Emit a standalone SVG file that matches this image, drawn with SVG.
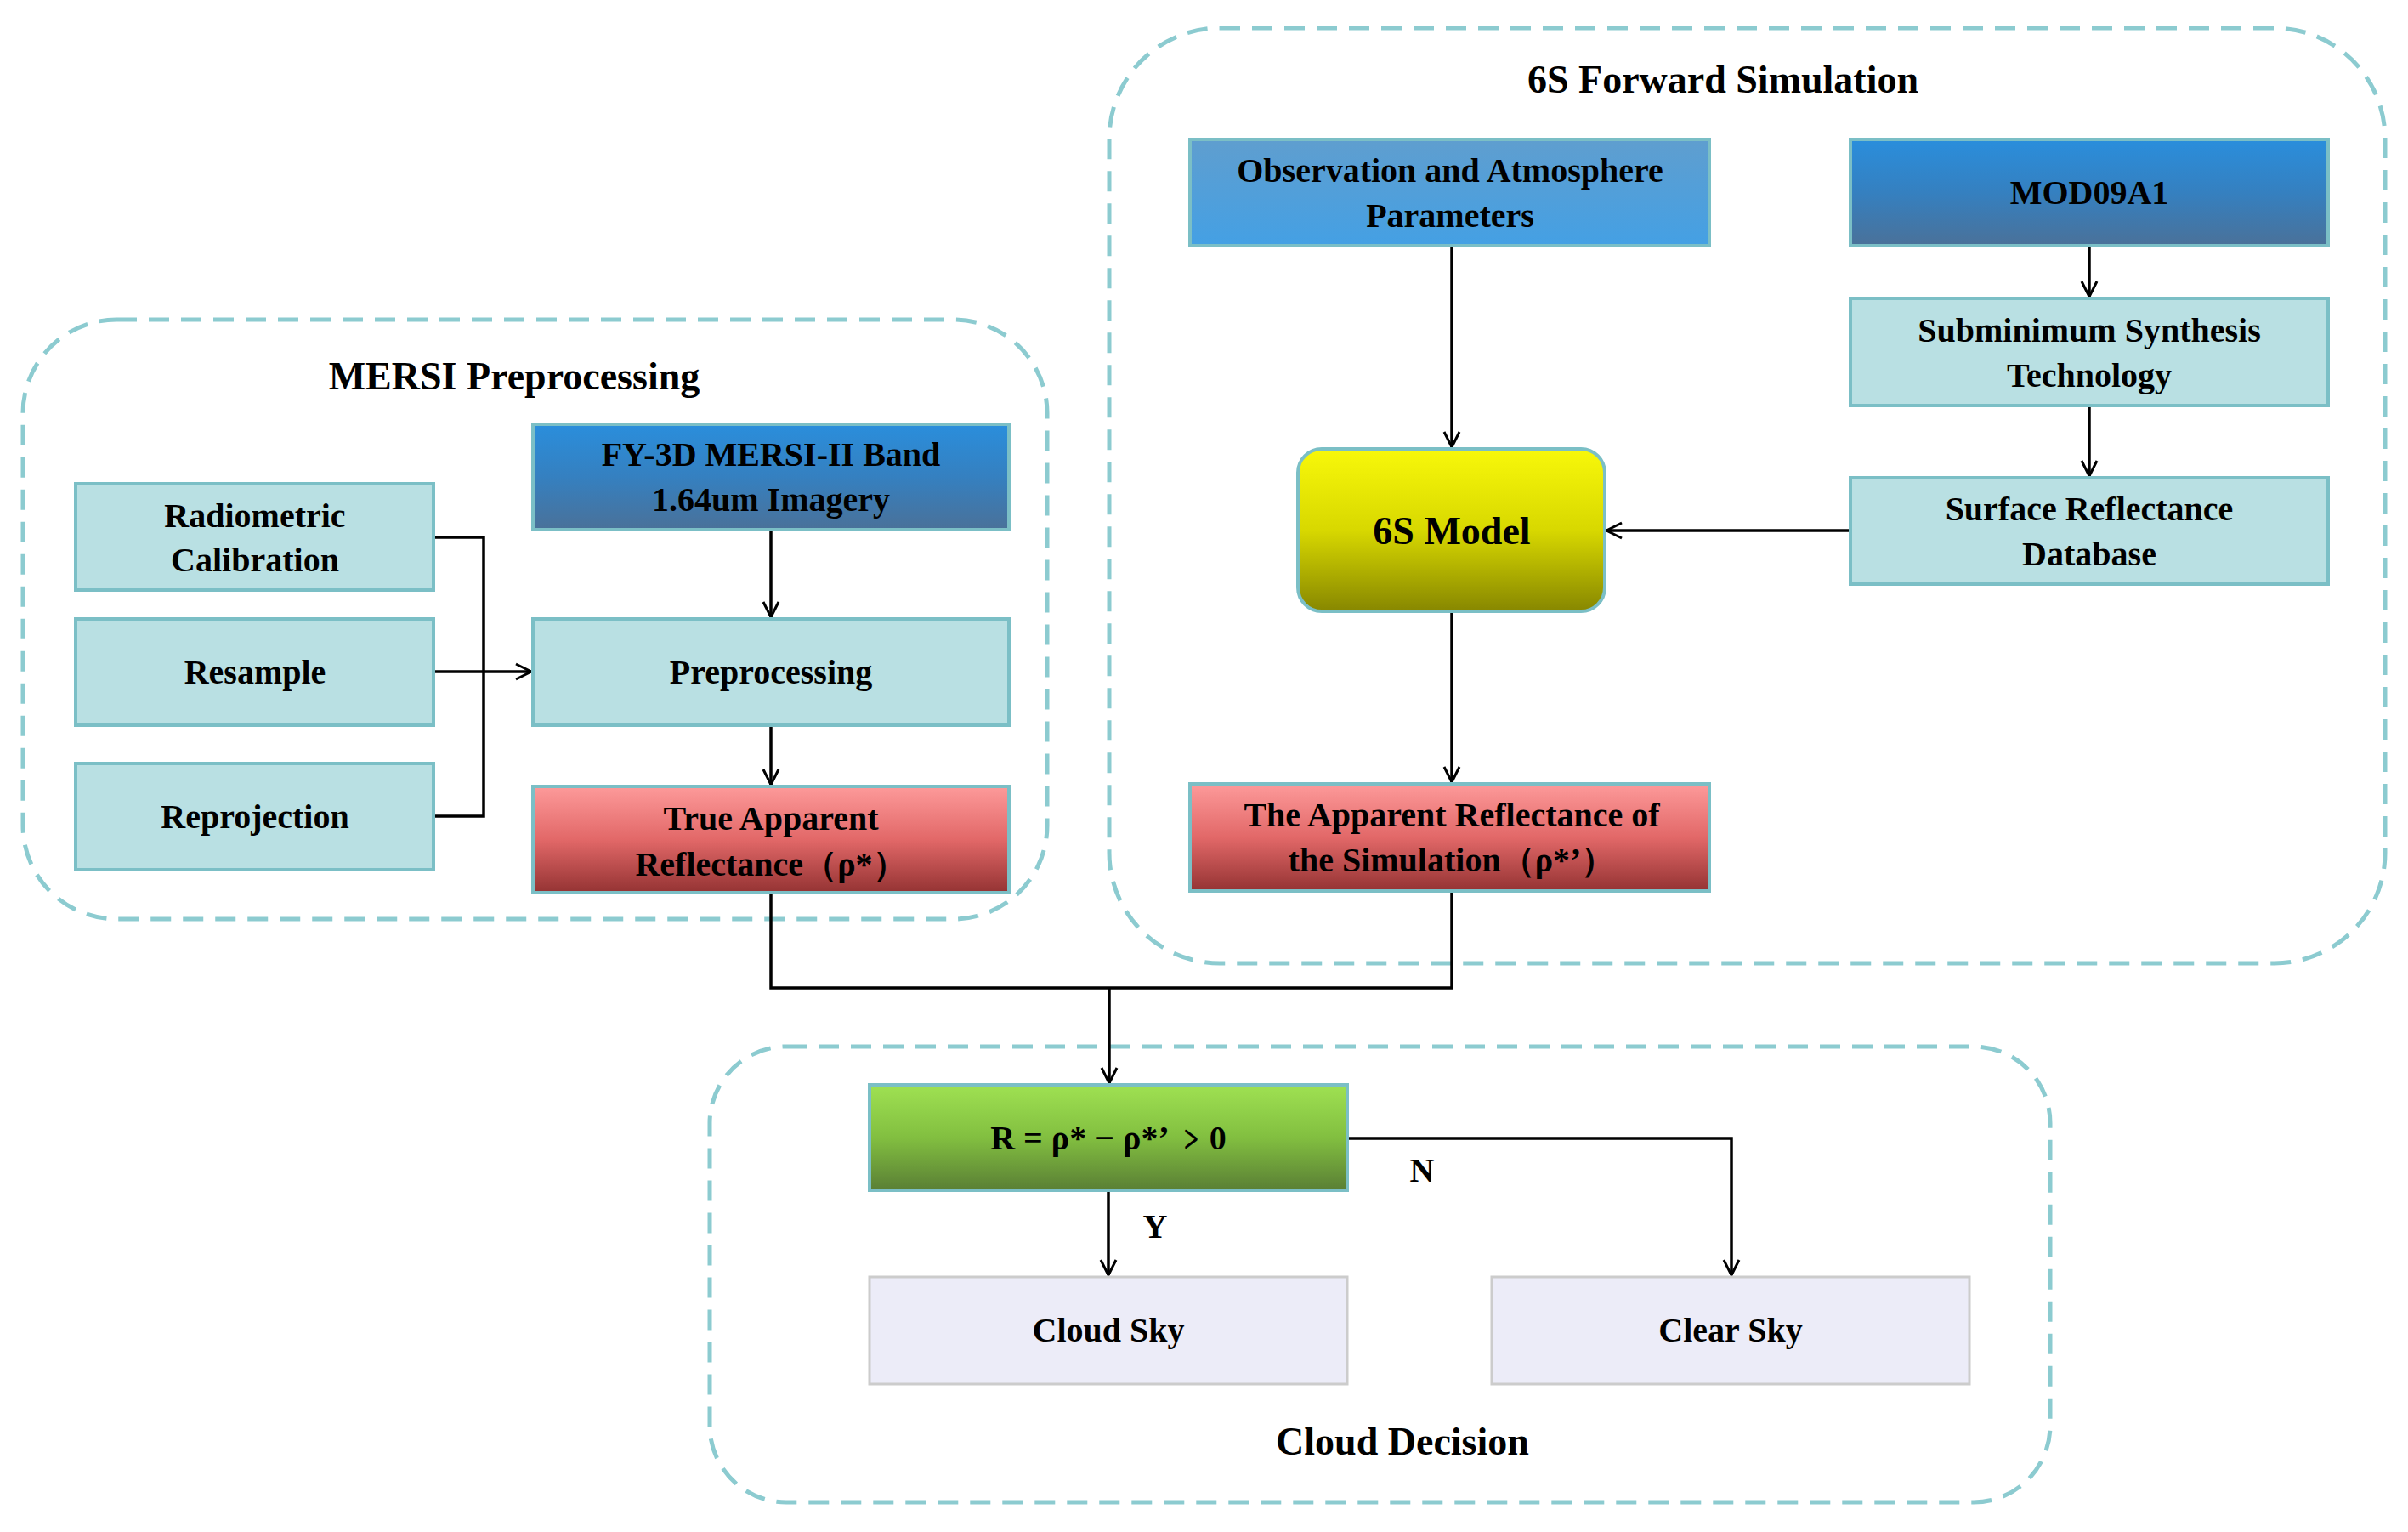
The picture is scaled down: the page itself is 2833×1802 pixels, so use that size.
<svg xmlns="http://www.w3.org/2000/svg" width="2833" height="1802" viewBox="0 0 2833 1802">
<defs>
<linearGradient id="gBlue" x1="0" y1="0" x2="0" y2="1"><stop offset="0" stop-color="#2a8edc"/><stop offset="0.5" stop-color="#3580c0"/><stop offset="1" stop-color="#4a7199"/></linearGradient>
<linearGradient id="gLBlue" x1="0" y1="0" x2="0" y2="1"><stop offset="0" stop-color="#5f9ecf"/><stop offset="1" stop-color="#44a0e4"/></linearGradient>
<linearGradient id="gRed" x1="0" y1="0" x2="0" y2="1"><stop offset="0" stop-color="#fd9a9a"/><stop offset="0.5" stop-color="#e26868"/><stop offset="1" stop-color="#943333"/></linearGradient>
<linearGradient id="gYel" x1="0" y1="0" x2="0" y2="1"><stop offset="0" stop-color="#f8f80a"/><stop offset="0.5" stop-color="#d8d800"/><stop offset="1" stop-color="#878700"/></linearGradient>
<linearGradient id="gGrn" x1="0" y1="0" x2="0" y2="1"><stop offset="0" stop-color="#9fe152"/><stop offset="0.5" stop-color="#82bf40"/><stop offset="1" stop-color="#5a7f35"/></linearGradient>
<marker id="arr" markerWidth="24" markerHeight="24" refX="20" refY="12" orient="auto" markerUnits="userSpaceOnUse"><path d="M2,3 L20,12 L2,21" fill="none" stroke="#000" stroke-width="3"/></marker>
</defs>
<style>
text{font-family:"Liberation Serif","Times New Roman",serif;font-weight:bold;font-size:40px;fill:#000;text-anchor:middle}
.t{font-size:46px}
.grp{fill:none;stroke:#8ccbd0;stroke-width:5;stroke-dasharray:24 14}
.c{fill:#b9e0e3;stroke:#7bbfc6;stroke-width:4}
.b{stroke:#7bbfc6;stroke-width:4}
.w{fill:#ececf8;stroke:#cccccc;stroke-width:3}
.ln{fill:none;stroke:#000;stroke-width:3.5}
</style>
<rect class="grp" x="27" y="376" width="1205" height="705" rx="110"/>
<rect class="grp" x="1305" y="33" width="1501" height="1100" rx="130"/>
<rect class="grp" x="835" y="1231" width="1577" height="536" rx="90"/>
<text class="t" x="605" y="458">MERSI Preprocessing</text>
<text class="t" x="2027" y="109">6S Forward Simulation</text>
<text class="t" x="1650" y="1711">Cloud Decision</text>
<g id="connectors">
<path class="ln" d="M510,632 H569 V960 H510 M510,790 H625" marker-end="url(#arr)"/>
<path class="ln" d="M907,623 V726" marker-end="url(#arr)"/>
<path class="ln" d="M907,853 V923" marker-end="url(#arr)"/>
<path class="ln" d="M1708,289 V526" marker-end="url(#arr)"/>
<path class="ln" d="M2458,289 V349" marker-end="url(#arr)"/>
<path class="ln" d="M2458,477 V560" marker-end="url(#arr)"/>
<path class="ln" d="M2177,624 H1890" marker-end="url(#arr)"/>
<path class="ln" d="M1708,719 V920" marker-end="url(#arr)"/>
<path class="ln" d="M907,1050 V1162 H1305 M1708,1048 V1162 H1305 V1274" marker-end="url(#arr)"/>
<path class="ln" d="M1304,1400 V1500" marker-end="url(#arr)"/>
<path class="ln" d="M1585,1339 H2037 V1500" marker-end="url(#arr)"/>
<text x="1673" y="1390">N</text>
<text x="1359" y="1456">Y</text>
</g>
<g id="radiometric"><rect class="c" x="89" y="569" width="421" height="125"/><text x="300" y="620">Radiometric</text><text x="300" y="672">Calibration</text></g>
<g id="resample"><rect class="c" x="89" y="728" width="421" height="125"/><text x="300" y="804">Resample</text></g>
<g id="reprojection"><rect class="c" x="89" y="898" width="421" height="125"/><text x="300" y="974">Reprojection</text></g>
<g id="fy3d"><rect class="b" fill="url(#gBlue)" x="627" y="499" width="560" height="124"/><text x="907" y="548">FY-3D MERSI-II Band</text><text x="907" y="601">1.64um Imagery</text></g>
<g id="preprocessing"><rect class="c" x="627" y="728" width="560" height="125"/><text x="907" y="804">Preprocessing</text></g>
<g id="true-apparent"><rect class="b" fill="url(#gRed)" x="627" y="925" width="560" height="125"/><text x="907" y="976">True Apparent</text><text x="907" y="1030">Reflectance（ρ*）</text></g>
<g id="obs"><rect class="b" fill="url(#gLBlue)" x="1400" y="164" width="611" height="125"/><text x="1706" y="214">Observation and Atmosphere</text><text x="1706" y="267">Parameters</text></g>
<g id="mod09a1"><rect class="b" fill="url(#gBlue)" x="2177" y="164" width="562" height="125"/><text x="2458" y="240">MOD09A1</text></g>
<g id="subminimum"><rect class="c" x="2177" y="351" width="562" height="126"/><text x="2458" y="402">Subminimum Synthesis</text><text x="2458" y="455">Technology</text></g>
<g id="surface"><rect class="c" x="2177" y="562" width="562" height="125"/><text x="2458" y="612">Surface Reflectance</text><text x="2458" y="665">Database</text></g>
<g id="model6s"><rect class="b" fill="url(#gYel)" x="1527" y="528" width="361" height="191" rx="28"/><text x="1708" y="640" style="font-size:46px">6S Model</text></g>
<g id="sim"><rect class="b" fill="url(#gRed)" x="1400" y="922" width="611" height="126"/><text x="1708" y="972">The Apparent Reflectance of</text><text x="1708" y="1025">the Simulation（ρ*’）</text></g>
<g id="decision"><rect class="b" fill="url(#gGrn)" x="1023" y="1276" width="562" height="124"/><text x="1304" y="1352">R = ρ* − ρ*’ ﹥0</text></g>
<g id="cloudsky"><rect class="w" x="1023" y="1502" width="562" height="126"/><text x="1304" y="1578">Cloud Sky</text></g>
<g id="clearsky"><rect class="w" x="1755" y="1502" width="562" height="126"/><text x="2036" y="1578">Clear Sky</text></g>
</svg>
